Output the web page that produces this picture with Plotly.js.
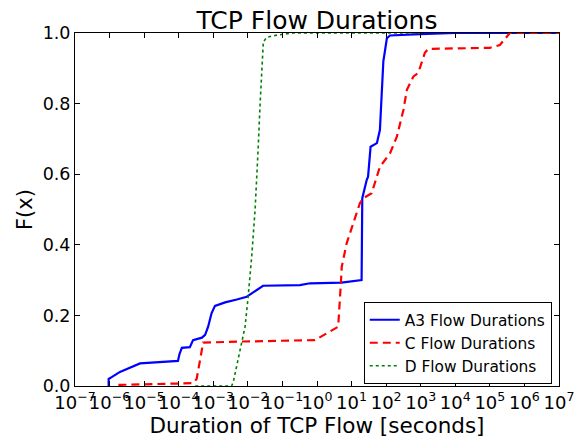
<!DOCTYPE html>
<html>
<head>
<meta charset="utf-8">
<script src="https://cdn.plot.ly/plotly-3.0.1.min.js"></script>
<style>html,body{margin:0;padding:0;background:#fff;}#chart{width:575px;height:445px;}</style>
</head>
<body>
<div id="chart"></div>
<script>
// Durations in seconds and CDF values
const a3Duration = [9.4e-7, 9.4e-7, 1.15e-6, 2.0e-6, 7.6e-6, 9.5e-5, 1.05e-4, 1.23e-4, 2.1e-4, 2.6e-4, 4.7e-4, 5.8e-4, 7.1e-4, 8.9e-4, 1.12e-3, 2.2e-3, 4.8e-3, 9.3e-3, 0.0275, 0.32, 0.63, 5.1, 19.5, 20.4, 27.5, 30, 35.5, 54, 66, 71, 83, 105, 129, 955, 1e4, 1e7];
const a3Cdf      = [0.0,    0.02,   0.025,   0.04,   0.064,  0.071,  0.09,    0.108,   0.11,   0.13,   0.137,  0.145,  0.168,  0.206,  0.227,   0.237,  0.245,  0.253,  0.284,  0.286, 0.291, 0.293, 0.30, 0.532, 0.584, 0.593, 0.678, 0.688, 0.725, 0.80, 0.92, 0.985, 0.993, 0.997, 1.0, 1.0];

const cDuration = [1.8e-6, 2.6e-4, 3.3e-4, 5.1e-4, 7.2e-3, 0.32, 0.87, 1.9, 4.1, 4.9, 5.2, 7.2, 11.3, 17.4, 21.9, 38, 66, 129, 204, 316, 398, 617, 851, 1320, 1660, 1e5, 1.95e5, 3.1e5, 3.8e5, 1e7];
const cCdf      = [0.003,  0.008,  0.02,   0.123,  0.126,  0.13, 0.13, 0.149, 0.168, 0.291, 0.338, 0.404, 0.461, 0.518, 0.532, 0.546, 0.621, 0.659, 0.706, 0.782, 0.839, 0.877, 0.887, 0.944, 0.955, 0.958, 0.966, 0.99, 1.0, 1.0];

const dDuration = [3.0e-4, 3.4e-3, 3.8e-3, 5.9e-3, 8.3e-3, 0.0102, 0.0129, 0.0162, 0.0182, 0.020, 0.0224, 0.025, 0.028, 0.0355, 0.068, 0.20, 1e3];
const dCdf      = [0.0,    0.0,    0.012,  0.102,  0.168,  0.253,  0.366,  0.50,   0.584,  0.678, 0.791,  0.876, 0.975, 0.988,  0.994, 1.0,  1.0];

const xTickVals = [1e-7,1e-6,1e-5,1e-4,1e-3,1e-2,1e-1,1e0,1e1,1e2,1e3,1e4,1e5,1e6,1e7];
const xTickText = ['10<sup>\u22127</sup>','10<sup>\u22126</sup>','10<sup>\u22125</sup>','10<sup>\u22124</sup>','10<sup>\u22123</sup>','10<sup>\u22122</sup>','10<sup>\u22121</sup>','10<sup>0</sup>','10<sup>1</sup>','10<sup>2</sup>','10<sup>3</sup>','10<sup>4</sup>','10<sup>5</sup>','10<sup>6</sup>','10<sup>7</sup>'];
const yTickVals = [0.0, 0.2, 0.4, 0.6, 0.8, 1.0];

const font = 'DejaVu Sans, sans-serif';

const traces = [
  {x: a3Duration, y: a3Cdf, name: 'A3 Flow Durations', mode: 'lines', line: {color: '#0000ff', width: 2.2}},
  {x: cDuration, y: cCdf, name: 'C Flow Durations', mode: 'lines', line: {color: '#ff0000', width: 2.2, dash: '8px,5px'}},
  {x: dDuration, y: dCdf, name: 'D Flow Durations', mode: 'lines', line: {color: '#008000', width: 1.6, dash: 'dot'}}
];

const layout = {
  width: 575, height: 445,
  margin: {l: 75, r: 16, t: 33, b: 59},
  paper_bgcolor: '#ffffff', plot_bgcolor: '#ffffff',
  font: {family: font, color: '#000', size: 18},
  title: {text: 'TCP Flow Durations', font: {family: font, size: 25, color: '#000'}, x: 0.5, xref: 'paper', xanchor: 'center', y: 1, yref: 'paper', yanchor: 'bottom', pad: {b: 4}},
  xaxis: {
    type: 'log', range: [-7, 7],
    tickvals: xTickVals, ticktext: xTickText, tickangle: 0,
    ticks: 'inside', ticklen: 5, tickcolor: '#000', tickwidth: 1,
    showline: true, linecolor: '#000', linewidth: 1, mirror: 'allticks',
    showgrid: false, zeroline: false,
    tickfont: {family: font, size: 18, color: '#000'},
    title: {text: 'Duration of TCP Flow [seconds]', font: {family: font, size: 21.5, color: '#000'}, standoff: 4}
  },
  yaxis: {
    range: [0, 1], tickvals: yTickVals, tickformat: '.1f',
    ticks: 'inside', ticklen: 5, tickcolor: '#000', tickwidth: 1,
    showline: true, linecolor: '#000', linewidth: 1, mirror: 'allticks',
    showgrid: false, zeroline: false,
    tickfont: {family: font, size: 17.5, color: '#000'},
    title: {text: 'F(x)', font: {family: font, size: 21, color: '#000'}, standoff: 4}
  },
  legend: {
    x: 0.985, y: 0.005, xanchor: 'right', yanchor: 'bottom',
    bgcolor: '#ffffff', bordercolor: '#000', borderwidth: 1,
    font: {family: font, size: 15.4, color: '#000'},
    tracegroupgap: 0
  },
  showlegend: true
};

Plotly.newPlot('chart', traces, layout, {displayModeBar: false, staticPlot: true});
</script>
</body>
</html>
